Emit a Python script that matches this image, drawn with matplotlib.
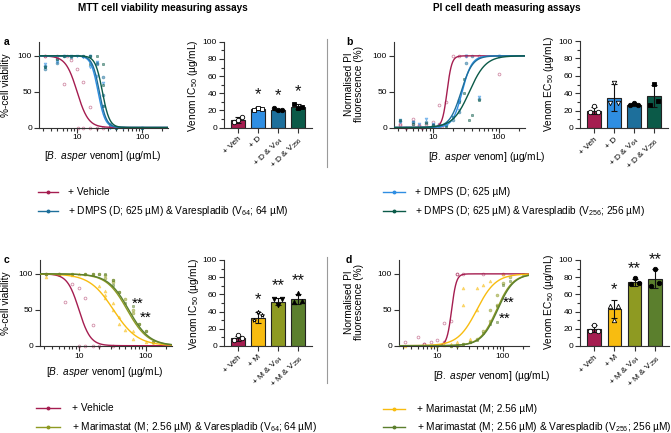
import matplotlib.pyplot as plt
import numpy as np
from matplotlib.lines import Line2D
from matplotlib.ticker import FixedLocator, MultipleLocator, NullFormatter, NullLocator

plt.rcParams['font.family'] = ['Liberation Sans', 'DejaVu Sans']
plt.rcParams['mathtext.fontset'] = 'custom'
plt.rcParams['mathtext.rm'] = 'Liberation Sans'
plt.rcParams['mathtext.it'] = 'Liberation Sans:italic'

# colours
C_VEH = '#A51D50'
C_D = '#2F8EE2'
C_DV64 = '#1D6F9B'
C_DV256 = '#0B5A48'
C_M = '#F8BC10'
C_MV64 = '#8E9A22'
C_MV256 = '#5B7F2D'

# ---- curve fits (IC50/EC50, hill slope) ----
fit_a = {'veh': (10, 5), 'D': (21, 8), 'DV64': (22, 8), 'DV256': (24.5, 8)}
fit_b = {'veh': (16.5, 12), 'D': (28, 6), 'DV64': (27, 5), 'DV256': (36, 3.5)}
fit_c = {'veh': (10, 5), 'M': (33, 2.4), 'MV64': (53, 2.8), 'MV256': (56, 2.8)}
fit_d = {'veh': (16.5, 12), 'M': (40, 3), 'MV64': (80, 3.5), 'MV256': (83, 3.5)}

# ---- curve raw points ----
a_veh_x = [3.2, 3.2, 5, 6.2, 7, 8, 10, 10.5, 12.5, 12.5, 16, 16, 20, 25]
a_veh_y = [100, 100, 100, 61, 100, 94, 82, 0, 64, 0, 29, 0, 0, 0]
a_D_x = [3.2, 3.2, 5, 6.2, 8, 10, 12.5, 16, 16, 20, 20, 25, 25, 32, 50, 100]
a_D_y = [88, 84, 92, 100, 100, 100, 98, 85, 100, 72, 92, 62, 30, 0, 0, 0]
a_DV64_x = [3.2, 3.2, 5, 5, 6.2, 8, 12.5, 16, 20, 20, 25, 25, 32, 40, 100]
a_DV64_y = [82, 86, 96, 90, 100, 98, 100, 100, 90, 88, 70, 45, 5, 0, 0]
a_DV256_x = [3.2, 5, 6.2, 8, 12.5, 16, 16, 20, 25, 25, 25, 32, 40, 100]
a_DV256_y = [84, 95, 100, 100, 100, 100, 88, 100, 88, 60, 30, 2, 0, 0]

b_veh_x = [3.2, 3.2, 4, 5, 5, 6.2, 6.2, 7, 8, 10, 10, 12.5, 12.5, 14, 16, 20, 25, 32, 50, 100]
b_veh_y = [5, 3, 0, 12, 5, 2, 3, 0, 5, 8, 3, 31, 5, 2, 35, 100, 100, 100, 100, 74]
b_D_x = [3.2, 3.2, 5, 6.2, 8, 10, 12.5, 16, 20, 25, 25, 32, 32, 50, 100]
b_D_y = [8, 10, 7, 5, 12, 5, 4, 2, 15, 25, 35, 100, 100, 42, 100]
b_DV64_x = [3.2, 5, 8, 10, 12.5, 16, 20, 25, 25, 32, 40, 50, 100]
b_DV64_y = [9, 8, 8, 3, 2, 3, 10, 38, 22, 90, 100, 40, 100]
b_DV256_x = [3.2, 5, 8, 10, 16, 20, 25, 30, 30, 35, 40, 50, 100]
b_DV256_y = [10, 5, 6, 3, 1, 15, 35, 68, 48, 10, 18, 38, 100]

c_veh_x = [3.2, 5, 6.2, 8, 10, 10, 12.5, 12.5, 16, 16, 20, 32]
c_veh_y = [100, 100, 61, 86, 81, 0, 66, 0, 29, 0, 0, 0]
c_M_x = [3.2, 5, 8, 10, 12.5, 16, 20, 25, 25, 25, 32, 32, 40, 40, 50, 64, 64, 100, 128]
c_M_y = [95, 100, 98, 100, 100, 98, 83, 76, 70, 67, 60, 50, 40, 30, 22, 20, 10, 5, 2]
c_MV64_x = [3.2, 5, 8, 12.5, 16, 20, 25, 25, 32, 32, 40, 50, 64, 64, 80, 100, 128]
c_MV64_y = [100, 100, 100, 100, 100, 100, 98, 94, 88, 92, 75, 65, 50, 45, 30, 20, 5]
c_MV256_x = [3.2, 5, 8, 12.5, 16, 20, 25, 32, 32, 40, 50, 64, 80, 100, 128]
c_MV256_y = [100, 100, 100, 100, 100, 100, 100, 92, 85, 75, 60, 55, 30, 20, 5]

d_veh_x = [3.2, 5, 6.2, 6.2, 8, 10, 12.5, 12.5, 16, 20, 20, 25, 50, 100]
d_veh_y = [5, 12, 2, 3, 5, 8, 31, 5, 35, 100, 100, 100, 100, 100]
d_M_x = [3.2, 8, 12.5, 16, 20, 25, 25, 32, 40, 40, 50, 64, 100]
d_M_y = [0, 0, 1, 2, 5, 80, 57, 10, 50, 80, 85, 90, 100]
d_MV64_x = [10, 16, 20, 25, 32, 40, 50, 64, 64, 80, 80, 100, 128]
d_MV64_y = [0, 0, 0, 2, 5, 10, 20, 35, 50, 57, 70, 87, 95]
d_MV256_x = [16, 20, 25, 32, 40, 50, 64, 80, 80, 100, 128, 200]
d_MV256_y = [0, 1, 2, 5, 8, 18, 30, 33, 55, 85, 90, 100]

# ---- bar charts ----
bar_a_labels = ['+ Veh', '+ D', '+ D & V$_{64}$', '+ D & V$_{256}$']
bar_a_means = [9, 22, 20.5, 24.5]
bar_a_err = [3, 1.5, 1.5, 2.5]
bar_a_pts = [[7, 9, 13], [21, 23, 22], [23, 20, 21], [27, 23, 24]]
bar_a_sig = ['', '*', '*', '*']

bar_b_labels = ['+ Veh', '+ D', '+ D & V$_{64}$', '+ D & V$_{256}$']
bar_b_means = [20, 35, 27, 37]
bar_b_err = [4, 16, 2, 13]
bar_b_pts = [[18, 25, 18], [29, 52, 29], [26, 29, 27], [27, 51, 31]]
bar_b_sig = ['', '', '', '']

bar_c_labels = ['+ Veh', '+ M', '+ M & V$_{64}$', '+ M & V$_{256}$']
bar_c_means = [9, 33, 51.5, 55]
bar_c_err = [3, 6, 4, 6]
bar_c_pts = [[7, 13, 9], [30, 40, 36], [55, 48, 55], [51, 62, 52]]
bar_c_sig = ['', '*', '**', '**']

bar_d_labels = ['+ Veh', '+ M', '+ M & V$_{64}$', '+ M & V$_{256}$']
bar_d_means = [20, 43, 74, 78]
bar_d_err = [4, 10, 4, 11]
bar_d_pts = [[18, 24, 18], [47, 30, 47], [72, 79, 73], [70, 90, 73]]
bar_d_sig = ['', '*', '**', '**']

W, H = 671, 433
fig = plt.figure(figsize=(W / 100, H / 100), dpi=100)

SPINE = '#333333'
TICKFS = 6


def px_axes(x0, x1, ytop, ybot):
    return fig.add_axes([x0 / W, (H - ybot) / H, (x1 - x0) / W, (ybot - ytop) / H])


def style(ax):
    for s in ['top', 'right']:
        ax.spines[s].set_visible(False)
    for s in ['left', 'bottom']:
        ax.spines[s].set_color(SPINE)
        ax.spines[s].set_linewidth(0.8)
    ax.tick_params(which='major', length=3.5, width=0.8, color=SPINE, labelsize=TICKFS, pad=1.5)
    ax.tick_params(which='minor', length=2.5, width=0.8, color=SPINE)


def curve_panel(ax, series, rising):
    xs = np.logspace(np.log10(2.6), np.log10(250), 300)
    for (px, py, (mid, h), col, mk) in series:
        if rising:
            yfit = 100 / (1 + (mid / xs) ** h)
        else:
            yfit = 100 / (1 + (xs / mid) ** h)
        ax.plot(xs, yfit, color=col, lw=1.0, zorder=3)
        fc = 'none' if mk == 'oo' else col
        ax.plot(px, py, ls='none', marker='o' if mk == 'oo' else mk, ms=2.0,
                mfc=fc, mec=col, mew=0.6, alpha=0.5, zorder=2, clip_on=False)
    ax.set_xscale('log')
    ax.set_xlim(2.6, 250)
    ax.set_ylim(0, 120)
    ax.xaxis.set_major_locator(FixedLocator([10, 100]))
    ax.set_xticklabels(['10', '100'])
    minors = [v * d for d in (1, 10, 100) for v in range(2, 10) if 2.6 <= v * d <= 250]
    ax.xaxis.set_minor_locator(FixedLocator(minors))
    ax.xaxis.set_minor_formatter(NullFormatter())
    ax.yaxis.set_major_locator(FixedLocator([0, 50, 100]))
    ax.yaxis.set_minor_locator(NullLocator())
    style(ax)
    ax.spines['left'].set_bounds(0, 120)


def bar_panel(ax, labels, means, err, pts, sig, colors, markers, star_off):
    x = np.arange(len(means))
    ax.bar(x, means, width=0.66, color=colors, edgecolor='#222222', linewidth=0.8, zorder=2)
    ax.errorbar(x, means, yerr=err, fmt='none', ecolor='#111111', elinewidth=0.8,
                capsize=2.2, capthick=0.8, zorder=3)
    offs = [-0.2, 0.0, 0.2, 0.1]
    for i, vals in enumerate(pts):
        mk, filled = markers[i]
        for j, v in enumerate(vals):
            ax.plot(x[i] + offs[j], v, marker=mk, ms=3.2, mfc='black' if filled else 'white',
                    mec='black', mew=0.6, ls='none', zorder=4)
    for i, s in enumerate(sig):
        if s:
            ax.text(x[i], means[i] + err[i] + star_off, s, ha='center', va='center',
                    fontsize=12, color='#111111')
    ax.set_xlim(-0.7, len(means) - 0.3)
    ax.set_ylim(0, 100)
    ax.yaxis.set_major_locator(MultipleLocator(20))
    ax.yaxis.set_minor_locator(MultipleLocator(10))
    ax.set_xticks(x)
    ax.set_xticklabels(labels, rotation=45, ha='right', va='top', rotation_mode='anchor', fontsize=5.3)
    style(ax)
    ax.tick_params(axis='x', pad=2)


# ---- panel a ----
ax = px_axes(39, 168, 41.5, 127.5)
curve_panel(ax, [
    (a_veh_x, a_veh_y, fit_a['veh'], C_VEH, 'oo'),
    (a_D_x, a_D_y, fit_a['D'], C_D, 'v'),
    (a_DV64_x, a_DV64_y, fit_a['DV64'], C_DV64, 'o'),
    (a_DV256_x, a_DV256_y, fit_a['DV256'], C_DV256, 's'),
], rising=False)

ax = px_axes(224, 312, 41.7, 127.7)
bar_panel(ax, bar_a_labels, bar_a_means, bar_a_err, bar_a_pts, bar_a_sig,
          [C_VEH, C_D, C_DV64, C_DV256],
          [('o', False), ('s', False), ('o', True), ('s', True)], 15)

# ---- panel b ----
ax = px_axes(394, 525, 41.5, 127.5)
curve_panel(ax, [
    (b_veh_x, b_veh_y, fit_b['veh'], C_VEH, 'oo'),
    (b_D_x, b_D_y, fit_b['D'], C_D, 'v'),
    (b_DV64_x, b_DV64_y, fit_b['DV64'], C_DV64, 'o'),
    (b_DV256_x, b_DV256_y, fit_b['DV256'], C_DV256, 's'),
], rising=True)

ax = px_axes(580, 668, 41, 128)
bar_panel(ax, bar_b_labels, bar_b_means, bar_b_err, bar_b_pts, bar_b_sig,
          [C_VEH, C_D, C_DV64, C_DV256],
          [('o', False), ('v', False), ('o', True), ('s', True)], 15)

# ---- panel c ----
ax = px_axes(40, 172, 259.5, 345.7)
curve_panel(ax, [
    (c_veh_x, c_veh_y, fit_c['veh'], C_VEH, 'oo'),
    (c_M_x, c_M_y, fit_c['M'], C_M, '^'),
    (c_MV64_x, c_MV64_y, fit_c['MV64'], C_MV64, 'o'),
    (c_MV256_x, c_MV256_y, fit_c['MV256'], C_MV256, 's'),
], rising=False)
ax.text(76, 59, '**', ha='center', va='center', fontsize=11)
ax.text(100, 39, '**', ha='center', va='center', fontsize=11)

ax = px_axes(224, 312, 260, 346)
bar_panel(ax, bar_c_labels, bar_c_means, bar_c_err, bar_c_pts, bar_c_sig,
          [C_VEH, C_M, C_MV64, C_MV256],
          [('o', False), ('*', False), ('v', True), ('^', True)], 15)

# ---- panel d ----
ax = px_axes(399, 529, 259.5, 345.7)
curve_panel(ax, [
    (d_veh_x, d_veh_y, fit_d['veh'], C_VEH, 'oo'),
    (d_M_x, d_M_y, fit_d['M'], C_M, '^'),
    (d_MV64_x, d_MV64_y, fit_d['MV64'], C_MV64, 'o'),
    (d_MV256_x, d_MV256_y, fit_d['MV256'], C_MV256, 's'),
], rising=True)
ax.text(124, 60, '**', ha='center', va='center', fontsize=11)
ax.text(105, 37, '**', ha='center', va='center', fontsize=11)

ax = px_axes(580, 669, 260, 346)
bar_panel(ax, bar_d_labels, bar_d_means, bar_d_err, bar_d_pts, bar_d_sig,
          [C_VEH, C_M, C_MV64, C_MV256],
          [('o', False), ('^', False), ('o', True), ('o', True)], 12)

# ---- text ----
def ftext(x, y, s, **kw):
    fig.text(x / W, 1 - y / H, s, **kw)


ftext(163, 8, 'MTT cell viability measuring assays', ha='center', va='center', fontsize=7.2, fontweight='bold')
ftext(507, 8, 'PI cell death measuring assays', ha='center', va='center', fontsize=7.2, fontweight='bold')
for lab, x, y in [('a', 4, 42), ('b', 346, 42), ('c', 4, 260), ('d', 346, 260)]:
    ftext(x, y, lab, ha='left', va='center', fontsize=7.5, fontweight='bold')

xlab = '[$\\mathit{B.\\ asper}$ venom] (µg/mL)'
ftext(103, 156, xlab, ha='center', va='center', fontsize=7.3)
ftext(487, 157, xlab, ha='center', va='center', fontsize=7.3)
ftext(105, 372, xlab, ha='center', va='center', fontsize=7.3)
ftext(492, 376, xlab, ha='center', va='center', fontsize=7.3)

ftext(6, 85, '%-cell viability', ha='center', va='center', rotation=90, fontsize=7.3)
ftext(6, 303, '%-cell viability', ha='center', va='center', rotation=90, fontsize=7.3)
ftext(354, 84, 'Normalised PI\nfluorescence (%)', ha='center', va='center', rotation=90,
      fontsize=7.3, linespacing=1.1)
ftext(354, 302, 'Normalised PI\nfluorescence (%)', ha='center', va='center', rotation=90,
      fontsize=7.3, linespacing=1.1)
ftext(193, 86, 'Venom IC$_{50}$ (µg/mL)', ha='center', va='center', rotation=90, fontsize=7.3)
ftext(549, 84, 'Venom EC$_{50}$ (µg/mL)', ha='center', va='center', rotation=90, fontsize=7.3)
ftext(194, 304, 'Venom IC$_{50}$ (µg/mL)', ha='center', va='center', rotation=90, fontsize=7.3)
ftext(549, 302, 'Venom EC$_{50}$ (µg/mL)', ha='center', va='center', rotation=90, fontsize=7.3)

# separators
for y0, y1 in [(39, 167), (257, 383)]:
    fig.add_artist(Line2D([327 / W, 327 / W], [1 - y0 / H, 1 - y1 / H], color='#9a9a9a', lw=0.8))

# legends
legend_items = [
    (38, 58, 68, 192, C_VEH, '+ Vehicle'),
    (38, 58, 68, 211, C_DV64, '+ DMPS (D; 625 µM) & Varespladib (V$_{64}$; 64 µM)'),
    (383, 405, 415, 192, C_D, '+ DMPS (D; 625 µM)'),
    (383, 405, 415, 211, C_DV256, '+ DMPS (D; 625 µM) & Varespladib (V$_{256}$; 256 µM)'),
    (36, 60, 72, 408, C_VEH, '+ Vehicle'),
    (36, 60, 72, 427, C_MV64, '+ Marimastat (M; 2.56 µM) & Varespladib (V$_{64}$; 64 µM)'),
    (383, 405, 417, 409, C_M, '+ Marimastat (M; 2.56 µM)'),
    (383, 405, 417, 427, C_MV256, '+ Marimastat (M; 2.56 µM) & Varespladib (V$_{256}$; 256 µM)'),
]
for x0, x1, xt, y, col, txt in legend_items:
    yy = 1 - y / H
    fig.add_artist(Line2D([x0 / W, (x0 + x1) / 2 / W, x1 / W], [yy, yy, yy], color=col, lw=1.0,
                          marker='o', ms=1.8, markevery=[1]))
    ftext(xt, y, txt, ha='left', va='center', fontsize=7.3)

fig.savefig('out.png', dpi=100)
